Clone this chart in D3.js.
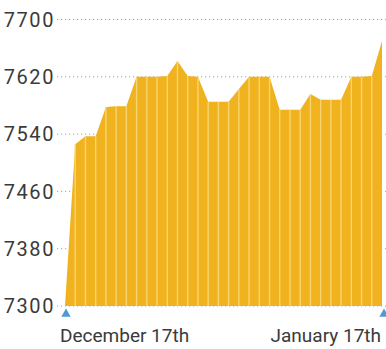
<!DOCTYPE html>
<html>
<head>
<meta charset="utf-8">
<script src="https://cdn.jsdelivr.net/npm/d3@7"></script>
<style>
  html, body { margin: 0; padding: 0; background: #fff; }
  svg { display: block; }
  .tick-label { font-family: Roboto, "Noto Sans", sans-serif; font-size: 20px; fill: #3a3a3a; letter-spacing: 1.6px; }
  .date-label { font-family: Roboto, "Noto Sans", sans-serif; font-size: 19px; fill: #3a3a3a; }
</style>
</head>
<body>
<svg id="chart" width="386" height="349"></svg>
<script>
// Daily index level, December 17th through January 17th
const days = d3.range(32);
const values = [
  7300, 7526, 7537, 7537, 7578, 7579, 7579, 7620, 7620, 7620,
  7621, 7642, 7621, 7620, 7585, 7585, 7585, 7603, 7620, 7620,
  7620, 7574, 7574, 7574, 7596, 7588, 7588, 7588, 7620, 7620,
  7621, 7670
];
const yTicks = [7300, 7380, 7460, 7540, 7620, 7700];
const dateLabels = ["December 17th", "January 17th"];

const svg = d3.select("#chart");
const W = 386;

const x = d3.scaleLinear().domain([0, days.length - 1]).range([65, 382]);
const y = d3.scaleLinear().domain([7300, 7700]).range([306, 19.5]);

// dotted gridlines
svg.append("g")
  .selectAll("line")
  .data(yTicks)
  .join("line")
  .attr("x1", 57)
  .attr("x2", W)
  .attr("y1", d => y(d))
  .attr("y2", d => y(d))
  .attr("stroke", "#97a5b3")
  .attr("stroke-width", 1)
  .attr("stroke-dasharray", "1.2,2.8");

// tick labels
svg.append("g")
  .selectAll("text")
  .data(yTicks)
  .join("text")
  .attr("class", "tick-label")
  .attr("x", 55)
  .attr("y", d => y(d))
  .attr("dy", "0.36em")
  .attr("text-anchor", "end")
  .text(d => d);

// filled area
const area = d3.area()
  .x((d, i) => x(days[i]))
  .y0(y(7300))
  .y1(d => y(d));

svg.append("path")
  .datum(values)
  .attr("d", area)
  .attr("fill", "#f0b21f");

// light column separators at each day
svg.append("g")
  .selectAll("line")
  .data(days.slice(1, -1))
  .join("line")
  .attr("x1", d => x(d))
  .attr("x2", d => x(d))
  .attr("y1", y(7300))
  .attr("y2", d => y(values[d]))
  .attr("stroke", "#f8d877")
  .attr("stroke-opacity", 0.9)
  .attr("stroke-width", 1.4);

// end markers
const tri = d3.symbol().type(d3.symbolTriangle).size(38);
svg.append("g")
  .selectAll("path")
  .data([days[0], days[days.length - 1]])
  .join("path")
  .attr("d", tri)
  .attr("transform", d => `translate(${x(d) + (d === 0 ? 1 : 2)},${y(7300) + 8})`)
  .attr("fill", "#4f9bd0");

// date labels
svg.append("text")
  .attr("class", "date-label")
  .attr("x", 60)
  .attr("y", 342)
  .attr("text-anchor", "start")
  .text(dateLabels[0]);

svg.append("text")
  .attr("class", "date-label")
  .attr("x", 381)
  .attr("y", 342)
  .attr("text-anchor", "end")
  .text(dateLabels[1]);
</script>
</body>
</html>
